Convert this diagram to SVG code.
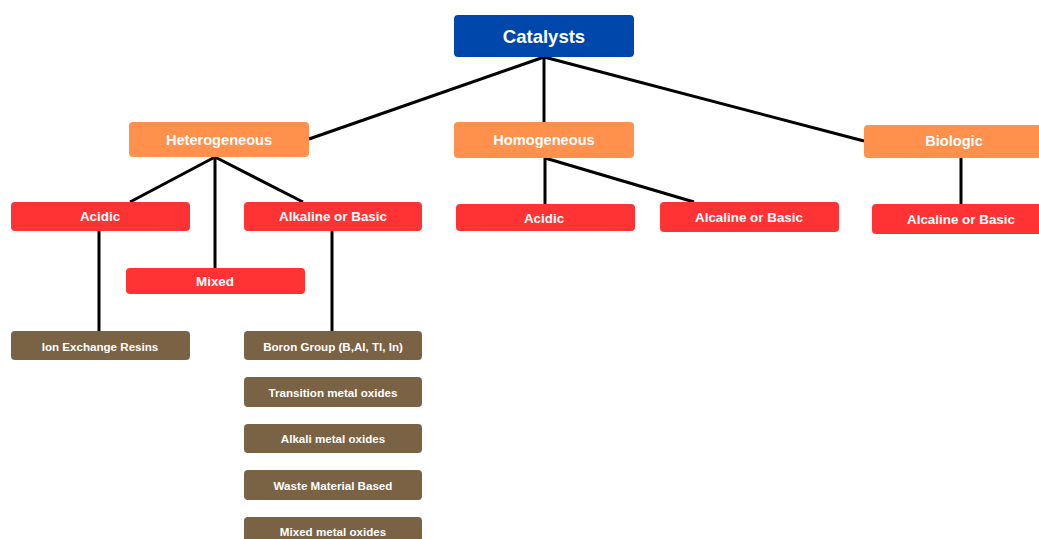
<svg xmlns="http://www.w3.org/2000/svg" width="1039" height="539" viewBox="0 0 1039 539">
<style>
text{font-family:"Liberation Sans",Arial,sans-serif;font-weight:bold;fill:#fff;text-anchor:middle;dominant-baseline:central}
.root rect{fill:#0047AB}
.l1 rect{fill:#FF914D}
.l2 rect{fill:#FF3333}
.l3 rect{fill:#7A6244}
.root text{font-size:18.5px}
.l1 text{font-size:14.6px}
.l2 text{font-size:13.4px}
.l3 text{font-size:11.6px}
#connectors line{stroke:#000;stroke-width:3;stroke-linecap:butt}
</style>
<rect width="1039" height="539" fill="#fff"/>
<g id="connectors">
<line x1="544" y1="57" x2="309" y2="139"/>
<line x1="544" y1="57" x2="544" y2="122"/>
<line x1="544" y1="57" x2="864" y2="141"/>
<line x1="215" y1="157" x2="130" y2="202"/>
<line x1="215" y1="157" x2="215" y2="268"/>
<line x1="215" y1="157" x2="303" y2="202"/>
<line x1="99" y1="231" x2="99" y2="331"/>
<line x1="332" y1="231" x2="332" y2="331"/>
<line x1="545" y1="158" x2="545" y2="204"/>
<line x1="545" y1="158" x2="694" y2="202"/>
<line x1="961" y1="158" x2="961" y2="204"/>
</g>
<g id="catalysts" class="root"><rect x="454" y="15" width="180" height="42" rx="4"/><text x="544" y="36">Catalysts</text></g>
<g id="heterogeneous" class="l1"><rect x="129" y="122" width="180" height="35" rx="4"/><text x="219" y="140">Heterogeneous</text></g>
<g id="homogeneous" class="l1"><rect x="454" y="122" width="180" height="36" rx="4"/><text x="544" y="140">Homogeneous</text></g>
<g id="biologic" class="l1"><rect x="864" y="125" width="185" height="33" rx="4"/><text x="954" y="141">Biologic</text></g>
<g id="het-acidic" class="l2"><rect x="11" y="202" width="179" height="29" rx="4"/><text x="100" y="216">Acidic</text></g>
<g id="het-alkaline" class="l2"><rect x="244" y="202" width="178" height="29" rx="4"/><text x="333" y="216">Alkaline or Basic</text></g>
<g id="het-mixed" class="l2"><rect x="126" y="268" width="179" height="26" rx="4"/><text x="215" y="281">Mixed</text></g>
<g id="hom-acidic" class="l2"><rect x="456" y="204" width="179" height="27" rx="4"/><text x="544" y="218">Acidic</text></g>
<g id="hom-alcaline" class="l2"><rect x="660" y="202" width="179" height="30" rx="4"/><text x="749" y="217">Alcaline or Basic</text></g>
<g id="bio-alcaline" class="l2"><rect x="872" y="204" width="177" height="30" rx="4"/><text x="961" y="219">Alcaline or Basic</text></g>
<g id="ion-exchange" class="l3"><rect x="11" y="331" width="179" height="29" rx="4"/><text x="100" y="346">Ion Exchange Resins</text></g>
<g id="boron" class="l3"><rect x="244" y="331" width="178" height="29" rx="4"/><text x="333" y="346">Boron Group (B,Al, Tl, In)</text></g>
<g id="transition" class="l3"><rect x="244" y="377" width="178" height="30" rx="4"/><text x="333" y="392">Transition metal oxides</text></g>
<g id="alkali" class="l3"><rect x="244" y="424" width="178" height="29" rx="4"/><text x="333" y="438">Alkali metal oxides</text></g>
<g id="waste" class="l3"><rect x="244" y="470" width="178" height="30" rx="4"/><text x="333" y="485">Waste Material Based</text></g>
<g id="mixed-metal" class="l3"><rect x="244" y="517" width="178" height="30" rx="4"/><text x="333" y="531">Mixed metal oxides</text></g>
</svg>
